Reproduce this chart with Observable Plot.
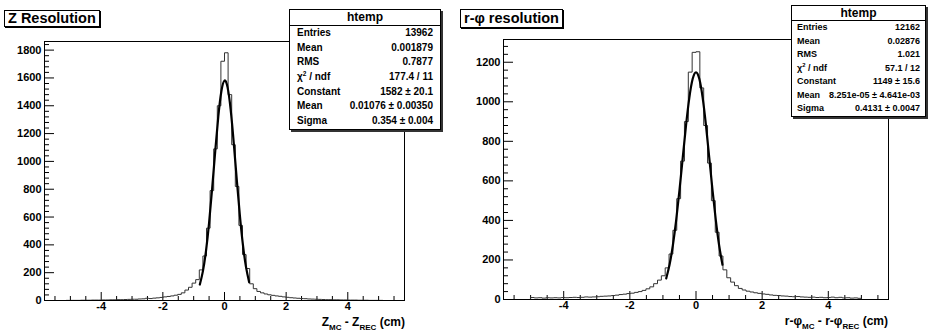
<!DOCTYPE html>
<html><head><meta charset="utf-8">
<script src="https://cdn.jsdelivr.net/npm/d3@7"></script>
<script src="https://cdn.jsdelivr.net/npm/@observablehq/plot@0.6"></script>
<style>
body{margin:0;background:#fff;}
#root{position:relative;width:929px;height:331px;overflow:hidden;font-family:"Liberation Sans",Arial,sans-serif;font-weight:bold;color:#000;}
.pl{position:absolute;top:0;}
.title{position:absolute;box-sizing:border-box;border:1px solid #000;box-shadow:1px 1px 0 #000;background:#fff;font-size:14.5px;line-height:15px;padding:0 3px;white-space:nowrap;}
.stats{position:absolute;box-sizing:border-box;border:1px solid #000;box-shadow:2px 2px 0 #333;background:#fff;}
.stats .hd{text-align:center;border-bottom:1px solid #000;font-size:12px;}
.stats .row{display:flex;justify-content:space-between;white-space:nowrap;}
.xlabel{position:absolute;white-space:nowrap;font-size:12px;line-height:12px;text-align:right;}
.xlabel .s{font-size:8px;position:relative;top:4px;}
sup{font-size:0.65em;line-height:0;}
</style></head>
<body><div id="root"></div>
<script>
// ---- Left panel: Z resolution ----
const zBinLo = -5.84, zBinW = 0.1168;
const zCounts = [0,0,0,0,0,0,1,1,1,1,2,2,2,3,3,3,4,4,5,5,
  6,6,7,8,9,9,11,12,16,14,17,19,22,26,29,33,38,44,55,75,
  95,125,150,220,320,520,790,1090,1400,1720,1781,1480,1120,820,540,330,230,120,85,65,
  55,47,41,37,33,30,26,23,20,18,16,14,13,11,10,9,8,7,6,6,
  5,5,4,4,3,3,3,2,2,2,1,1,1,1,0,0,0,0,0,0];
const zFitX = [-0.8,-0.7,-0.6,-0.5,-0.4,-0.3,-0.2,-0.1,0,0.1,0.2,0.3,0.4,0.5,0.6,0.7,0.8];
const zFitY = [115,211,357,558,807,1076,1325,1506,1581,1532,1372,1133,864,609,396,238,132];
const zXDomain = [-5.84, 5.84], zYDomain = [0, 1862];
const zYTicks = [0,200,400,600,800,1000,1200,1400,1600,1800];
const zXTicks = [-4,-2,0,2,4];
const zStats = [["Entries","13962"],["Mean","0.001879"],["RMS","0.7877"],["χ<sup>2</sup> / ndf","177.4 / 11"],["Constant","1582 ± 20.1"],["Mean","0.01076 ± 0.00350"],["Sigma","0.354 ± 0.004"]];

// ---- Right panel: r-phi resolution ----
const rBinLo = -5.82, rBinW = 0.1164;
const rCounts = [0,0,0,0,0,0,0,10,8,9,7,9,8,9,8,10,9,10,11,10,
  11,13,12,13,14,16,17,18,20,22,25,27,30,32,36,40,46,54,64,80,
  98,120,160,230,350,510,700,900,1150,1250,1253,1070,880,690,500,340,220,150,110,88,
  70,56,48,42,38,34,31,28,26,23,21,20,18,17,15,14,15,13,12,11,
  12,10,11,9,10,12,9,11,8,9,7,8,6,0,0,0,0,0,0,0];
const rFitX = [-0.9,-0.8,-0.7,-0.6,-0.5,-0.4,-0.3,-0.2,-0.1,0,0.1,0.2,0.3,0.4,0.5,0.6,0.7,0.8];
const rFitY = [107,176,273,400,552,719,883,1022,1116,1149,1116,1022,883,719,552,400,273,176];
const rXDomain = [-5.82, 5.82], rYDomain = [0, 1315];
const rYTicks = [0,200,400,600,800,1000,1200];
const rXTicks = [-4,-2,0,2,4];
const rStats = [["Entries","12162"],["Mean","0.02876"],["RMS","1.021"],["χ<sup>2</sup> / ndf","57.1 / 12"],["Constant","1149 ± 15.6"],["Mean","8.251e-05 ± 4.641e-03"],["Sigma","0.4131 ± 0.0047"]];

function panel(o) {
  const hist = o.counts.map((c, i) => ({x: o.lo + i * o.w, y: c}));
  hist.push({x: o.lo + o.counts.length * o.w, y: o.counts[o.counts.length - 1]});
  const fit = o.fitX.map((x, i) => ({x, y: o.fitY[i]}));
  const pw = o.width - o.ml - o.mr, ph = 331 - o.mt - o.mb;
  const yMinor = d3.range(0, o.yDomain[1], 40).filter(v => v % 200 !== 0);
  const xMinor = d3.range(-5.5, 5.51, 0.5).filter(v => v % 2 !== 0);
  return Plot.plot({
    width: o.width, height: 331,
    marginLeft: o.ml, marginRight: o.mr, marginTop: o.mt, marginBottom: o.mb,
    x: {domain: o.xDomain}, y: {domain: o.yDomain},
    style: {fontFamily: "Liberation Sans, Arial, sans-serif", fontSize: "11px", fontWeight: "bold", background: "transparent", color: "#000"},
    marks: [
      Plot.tickY(o.yTicks, {y: d => d, insetRight: pw - 10, stroke: "#000"}),
      Plot.tickY(yMinor, {y: d => d, insetRight: pw - 5, stroke: "#000"}),
      Plot.tickX(o.xTicks, {x: d => d, insetTop: ph - 8, stroke: "#000"}),
      Plot.tickX(xMinor, {x: d => d, insetTop: ph - 4, stroke: "#000"}),
      Plot.axisY(o.yTicks, {tickSize: 0, tickPadding: 3, label: null, tickFormat: d => String(d)}),
      Plot.axisX(o.xTicks, {tickSize: 0, tickPadding: 2, label: null, tickFormat: d => String(d)}),
      Plot.line(hist, {x: "x", y: "y", curve: "step-after", stroke: "#333", strokeWidth: 1}),
      Plot.line(fit, {x: "x", y: "y", curve: "natural", stroke: "#000", strokeWidth: 2.2}),
      Plot.frame({stroke: "#000"})
    ]
  });
}

const root = document.getElementById("root");
function place(el, left) { const d = document.createElement("div"); d.className = "pl"; d.style.left = left + "px"; d.appendChild(el); root.appendChild(d); }

place(panel({counts: zCounts, lo: zBinLo, w: zBinW, fitX: zFitX, fitY: zFitY, xDomain: zXDomain, yDomain: zYDomain,
  yTicks: zYTicks, xTicks: zXTicks, width: 460, ml: 44, mr: 56, mt: 41, mb: 31}), 0);
place(panel({counts: rCounts, lo: rBinLo, w: rBinW, fitX: rFitX, fitY: rFitY, xDomain: rXDomain, yDomain: rYDomain,
  yTicks: rYTicks, xTicks: rXTicks, width: 469, ml: 43, mr: 41, mt: 39, mb: 32}), 460);

function addHTML(html) { root.insertAdjacentHTML("beforeend", html); }
function statsBox(rows, left, top, width, headH, rowH, fs, pad) {
  let h = `<div class="stats" style="left:${left}px;top:${top}px;width:${width}px;">`;
  h += `<div class="hd" style="height:${headH}px;line-height:${headH}px;">htemp</div>`;
  for (const [k, v] of rows) h += `<div class="row" style="height:${rowH}px;line-height:${rowH}px;font-size:${fs}px;padding:0 ${pad}px;"><span>${k}</span><span>${v}</span></div>`;
  h += `</div>`;
  addHTML(h);
}
addHTML(`<div class="title" style="left:4px;top:10px;height:17px;">Z Resolution</div>`);
addHTML(`<div class="title" style="left:460px;top:9px;height:19px;line-height:17px;">r-φ resolution</div>`);
statsBox(zStats, 289, 9, 152, 15, 14.7, 10, 7);
statsBox(rStats, 791, 5, 135, 14, 13.5, 9, 5);
addHTML(`<div class="xlabel" style="right:${929-405}px;top:316px;">Z<span class="s">MC</span> - Z<span class="s">REC</span> (cm)</div>`);
addHTML(`<div class="xlabel" style="right:${929-888}px;top:315px;">r-φ<span class="s">MC</span> - r-φ<span class="s">REC</span> (cm)</div>`);
</script></body></html>
